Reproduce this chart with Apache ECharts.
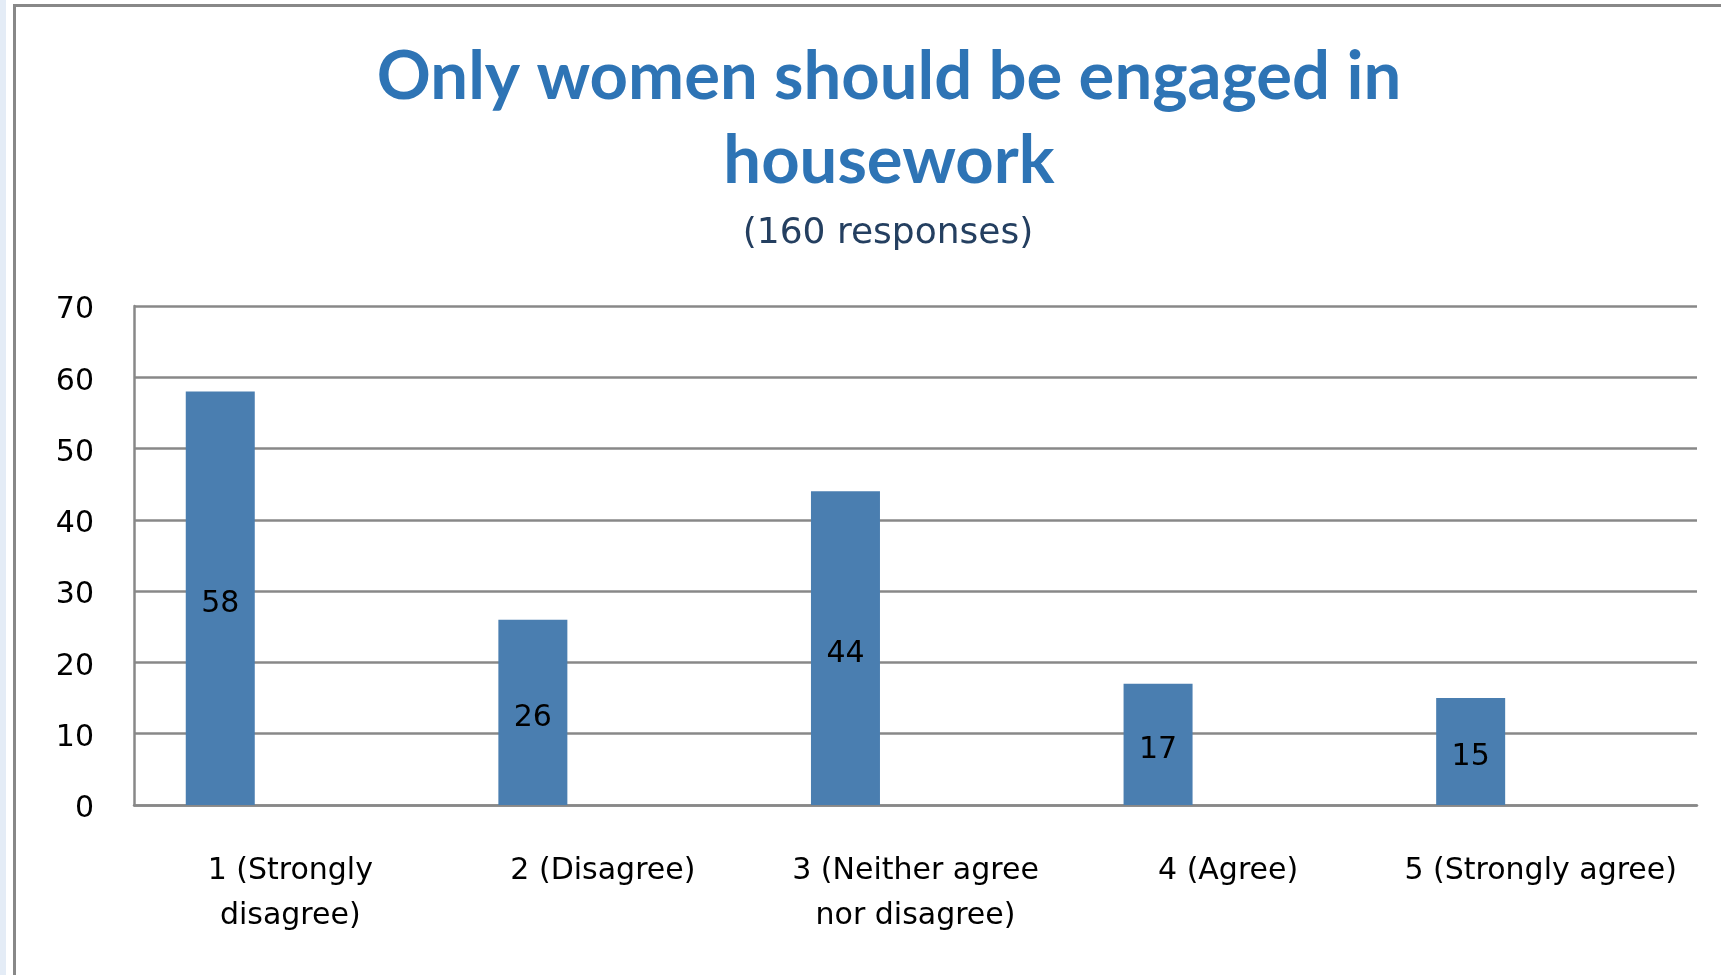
<!DOCTYPE html>
<html>
<head>
<meta charset="utf-8">
<script src="https://cdn.jsdelivr.net/npm/echarts@6/dist/echarts.min.js"></script>
<style>
html,body{margin:0;padding:0;background:#fff;}
#chart{width:1721px;height:975px;}
</style>
</head>
<body>
<div id="chart"></div>
<script>
var categories = ['1 (Strongly\ndisagree)', '2 (Disagree)', '3 (Neither agree\nnor disagree)', '4 (Agree)', '5 (Strongly agree)'];
var responses = [58, 26, 44, 17, 15];
var emptySlot = [null, null, null, null, null];
var titleText = 'Only women should be engaged in\nhousework';
var subtitleText = '(160 responses)';

var chart = echarts.init(document.getElementById('chart'));
chart.setOption({
  backgroundColor: '#ffffff',
  animation: false,
  graphic: [
    { type: 'rect', left: 0, top: 0, shape: { width: 6, height: 975 }, style: { fill: '#e4ecf6' }, silent: true },
    { type: 'rect', shape: { x: 14.5, y: 5.5, width: 1800, height: 1100 }, style: { fill: 'none', stroke: '#888888', lineWidth: 3 }, silent: true },
    { type: 'text', x: 888, y: 234, style: { text: subtitleText, fill: '#243f60', font: '36px "DejaVu Sans"', textAlign: 'center', textVerticalAlign: 'middle' }, silent: true }
  ],
  title: {
    text: titleText,
    left: 884,
    top: 30,
    textAlign: 'center',
    textStyle: { color: '#2e74b5', fontFamily: 'Lato', fontWeight: 'bold', fontSize: 67, lineHeight: 84 }
  },
  grid: { left: 134, right: 24, top: 306, bottom: 170, containLabel: false },
  xAxis: {
    type: 'category',
    data: categories,
    axisLine: { lineStyle: { color: '#888888', width: 2.5 } },
    axisTick: { show: false },
    axisLabel: { color: '#000', fontFamily: 'DejaVu Sans', fontSize: 30, lineHeight: 45, margin: 44, interval: 0 }
  },
  yAxis: {
    type: 'value',
    min: 0, max: 70, interval: 10,
    axisLine: { show: true, lineStyle: { color: '#888888', width: 2.5 } },
    axisTick: { show: false },
    splitLine: { lineStyle: { color: '#888888', width: 2.5 } },
    axisLabel: {
      margin: 40,
      formatter: '{t|{value}}',
      rich: { t: { color: '#000', fontFamily: 'DejaVu Sans', fontSize: 30, padding: [9, 0, 0, 0] } }
    }
  },
  series: [
    {
      type: 'bar',
      data: responses,
      barWidth: 69,
      barGap: '103%',
      itemStyle: { color: '#4a7eb0' },
      label: { show: true, position: 'inside', offset: [0, 6], color: '#000', fontFamily: 'DejaVu Sans', fontSize: 30 }
    },
    {
      type: 'bar',
      data: emptySlot,
      barWidth: 69,
      itemStyle: { color: '#4a7eb0' }
    }
  ]
});
</script>
</body>
</html>
